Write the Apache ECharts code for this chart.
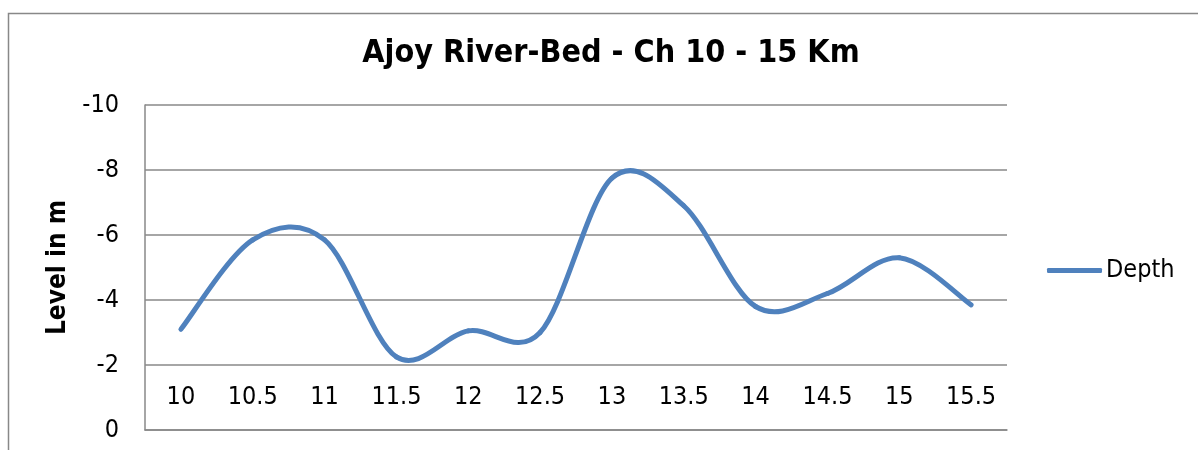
<!DOCTYPE html>
<html>
<head>
<meta charset="utf-8">
<script src="https://cdn.jsdelivr.net/npm/echarts@6/dist/echarts.min.js"></script>
<style>
  html, body { margin: 0; padding: 0; background: #fff; }
  #chart { width: 1198px; height: 450px; }
</style>
</head>
<body>
<div id="chart"></div>
<script>
// chainage (km) along the river
const chainage = ['10', '10.5', '11', '11.5', '12', '12.5', '13', '13.5', '14', '14.5', '15', '15.5'];
// river-bed depth, m
const depth = [-3.1, -5.85, -5.85, -2.25, -3.05, -3.0, -7.75, -6.9, -3.8, -4.2, -5.3, -3.85];

const FONT = "'DejaVu Sans Condensed', 'DejaVu Sans', sans-serif";
const GRID = '#888888';
const BLUE = '#4F81BD';

var myChart = echarts.init(document.getElementById('chart'));

// Excel-style smoothed line: one cardinal (Catmull-Rom) bezier segment per point pair,
// every point going through the axes with api.coord
function renderSegment(params, api) {
  var i = params.dataIndex;
  var n = depth.length;
  if (i >= n - 1) return null;
  var pt = function (k) {
    k = Math.max(0, Math.min(n - 1, k));
    return api.coord([k, depth[k]]);
  };
  var p0 = pt(i - 1), p1 = pt(i), p2 = pt(i + 1), p3 = pt(i + 2);
  return {
    type: 'bezierCurve',
    shape: {
      x1: p1[0], y1: p1[1],
      x2: p2[0], y2: p2[1],
      cpx1: p1[0] + (p2[0] - p0[0]) / 6,
      cpy1: p1[1] + (p2[1] - p0[1]) / 6,
      cpx2: p2[0] - (p3[0] - p1[0]) / 6,
      cpy2: p2[1] - (p3[1] - p1[1]) / 6
    },
    style: { fill: 'none', stroke: BLUE, lineWidth: 5, lineCap: 'round' }
  };
}

var option = {
  animation: false,
  backgroundColor: '#fff',
  textStyle: { fontFamily: FONT },
  graphic: [
    {
      type: 'rect',
      shape: { x: 8.5, y: 13.5, width: 1200, height: 460 },
      style: { fill: 'none', stroke: GRID, lineWidth: 1.5 },
      silent: true
    }
  ],
  title: {
    text: 'Ajoy River-Bed - Ch 10 - 15 Km',
    left: 606,
    top: 33,
    textAlign: 'center',
    textStyle: {
      fontFamily: FONT,
      fontWeight: 'bold',
      fontSize: 32,
      color: '#000'
    }
  },
  legend: {
    data: [{ name: 'Depth', icon: 'roundRect' }],
    left: 1042,
    top: 253,
    itemWidth: 55,
    itemHeight: 5,
    itemGap: 4,
    textStyle: { fontFamily: FONT, fontSize: 25, color: '#000', padding: [0, 0, 0, -1] }
  },
  grid: {
    left: 145,
    right: 191,
    top: 105,
    bottom: 20,
    containLabel: false
  },
  xAxis: {
    type: 'category',
    data: chainage,
    boundaryGap: true,
    axisLine: { show: true, lineStyle: { color: GRID, width: 1.5 } },
    axisTick: { show: false },
    axisLabel: {
      inside: true,
      margin: 20,
      fontFamily: FONT,
      fontSize: 25,
      color: '#000'
    },
    splitLine: { show: false }
  },
  yAxis: {
    type: 'value',
    inverse: true,
    min: -10,
    max: 0,
    interval: 2,
    name: 'Level in m',
    nameLocation: 'middle',
    nameGap: 70,
    nameTextStyle: {
      fontFamily: FONT,
      fontWeight: 'bold',
      fontSize: 26,
      color: '#000'
    },
    axisLine: { show: true, lineStyle: { color: GRID, width: 1.5 } },
    axisTick: { show: false },
    axisLabel: {
      margin: 26,
      fontFamily: FONT,
      fontSize: 25,
      color: '#000'
    },
    splitLine: { show: true, lineStyle: { color: GRID, width: 1.5 } }
  },
  series: [
    {
      name: 'Depth',
      type: 'custom',
      data: depth.map(function (v, i) { return [i, v]; }),
      encode: { x: 0, y: 1 },
      itemStyle: { color: BLUE },
      renderItem: renderSegment
    }
  ]
};

option && myChart.setOption(option);
</script>
</body>
</html>
